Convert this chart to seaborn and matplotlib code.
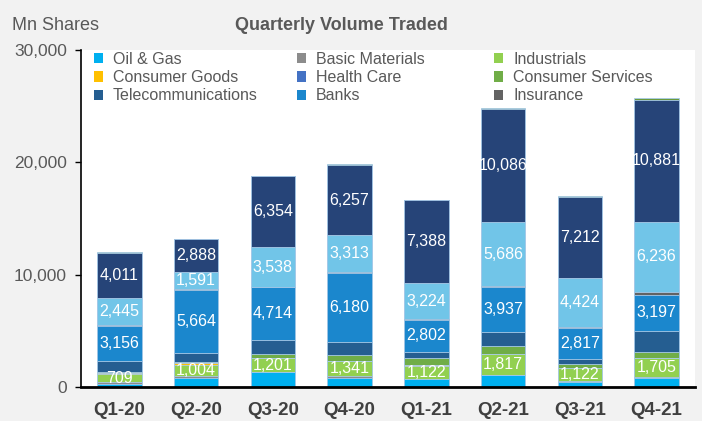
import seaborn as sns
import matplotlib.pyplot as plt
from matplotlib.patches import Patch
import numpy as np

quarters = ['Q1-20', 'Q2-20', 'Q3-20', 'Q4-20', 'Q1-21', 'Q2-21', 'Q3-21', 'Q4-21']

# sector volumes (Mn shares), bottom of the stack first
oil_gas = [300, 840, 1290, 840, 690, 1050, 450, 800]
basic_materials = [120, 120, 60, 100, 30, 30, 100, 60]
industrials = [709, 1004, 1201, 1341, 1122, 1817, 1122, 1705]
consumer_goods = [90, 150, 60, 40, 90, 20, 20, 20]
health_care = [20, 10, 10, 20, 10, 10, 10, 10]
consumer_services = [80, 60, 300, 480, 660, 750, 360, 550]
telecoms = [980, 810, 1230, 1170, 540, 1260, 390, 1850]
banks = [3156, 5664, 4714, 6180, 2802, 3937, 2817, 3197]
insurance = [40, 30, 30, 30, 90, 120, 40, 280]
real_estate = [2445, 1591, 3538, 3313, 3224, 5686, 4424, 6236]
financial_services = [4011, 2888, 6354, 6257, 7388, 10086, 7212, 10881]
utilities = [40, 40, 40, 40, 40, 60, 40, 130]

sectors = ['Oil & Gas', 'Basic Materials', 'Industrials', 'Consumer Goods', 'Health Care',
           'Consumer Services', 'Telecommunications', 'Banks', 'Insurance',
           'Real Estate', 'Financial Services', 'Utilities']
series = [oil_gas, basic_materials, industrials, consumer_goods, health_care,
          consumer_services, telecoms, banks, insurance, real_estate,
          financial_services, utilities]
colors = ['#00b0f0', '#8c8c8c', '#92d050', '#ffc000', '#4472c4', '#70ad47',
          '#255e91', '#1b87cd', '#636363', '#71c5e8', '#264478', '#6a9a3a']
labelled = ['Industrials', 'Banks', 'Real Estate', 'Financial Services']

sns.set_theme(style='white')
plt.rcParams['font.family'] = ['Liberation Sans', 'DejaVu Sans']

fig = plt.figure(figsize=(7.02, 4.21), dpi=100, facecolor='#f2f2f2')
ax = fig.add_axes([0.1154, 0.0808, 0.8746, 0.8004])
ax.set_facecolor('white')

values = np.array(series, dtype=float)
tops = values.cumsum(axis=0)

# overlapping cumulative bars, tallest first
for i in reversed(range(len(series))):
    sns.barplot(x=quarters, y=tops[i], order=quarters, color=colors[i], saturation=1,
                width=0.58, edgecolor='#a9cbe9', linewidth=0.6, errorbar=None, ax=ax)

for i, name in enumerate(sectors):
    if name not in labelled:
        continue
    for j in range(len(quarters)):
        mid = tops[i][j] - values[i][j] / 2
        ax.text(j, mid, f'{int(values[i][j]):,}', ha='center', va='center',
                color='white', fontsize=11.5)

ax.set_ylim(0, 30000)
ax.set_xlim(-0.5, 7.5)
ax.set_yticks([0, 10000, 20000, 30000])
ax.set_yticklabels(['0', '10,000', '20,000', '30,000'])
ax.tick_params(axis='y', length=4, width=1, color='black', labelsize=12.5,
               labelcolor='#595959', direction='out', left=True, pad=6)
ax.tick_params(axis='x', length=0, labelsize=13.5, labelcolor='#404040', pad=11)
for lbl in ax.get_xticklabels():
    lbl.set_fontweight('bold')
ax.set_xlabel('')
ax.set_ylabel('')
for s in ['top', 'right']:
    ax.spines[s].set_visible(False)
ax.spines['left'].set_color('black')
ax.spines['left'].set_linewidth(1.2)
ax.spines['bottom'].set_color('black')
ax.spines['bottom'].set_linewidth(2)

# legend: three columns, row-major order as in the original
xs = [-0.003, 0.328, 0.649]
for c in range(3):
    idx = [c, c + 3, c + 6]
    handles = [Patch(facecolor=colors[k], edgecolor='none') for k in idx]
    leg = ax.legend(handles, [sectors[k] for k in idx], loc='upper left',
                    bbox_to_anchor=(xs[c], 1.037), frameon=False, fontsize=11.5,
                    handlelength=0.6, handleheight=0.6, handletextpad=0.6,
                    labelspacing=0.2, labelcolor='#595959')
    if c < 2:
        ax.add_artist(leg)

fig.text(0.487, 0.94, 'Quarterly Volume Traded', ha='center', va='center',
         fontsize=13, fontweight='bold', color='#595959')
fig.text(0.017, 0.94, 'Mn Shares', ha='left', va='center', fontsize=13, color='#595959')

fig.savefig('out.png', dpi=100, facecolor=fig.get_facecolor())
